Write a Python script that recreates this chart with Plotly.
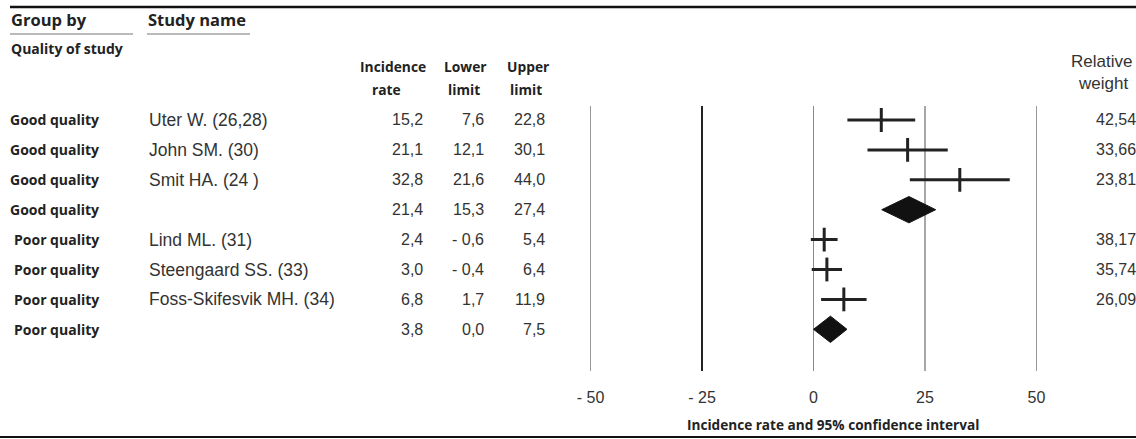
import plotly.graph_objects as go

W, H = 1136, 439

# ---------------- data ----------------
GROUPS = ["Good quality", "Good quality", "Good quality", "Good quality",
          "Poor quality", "Poor quality", "Poor quality", "Poor quality"]
STUDIES = ["Uter W. (26,28)", "John SM. (30)", "Smit HA. (24 )", "",
           "Lind ML. (31)", "Steengaard SS. (33)", "Foss-Skifesvik MH. (34)", ""]
RATE = [15.2, 21.1, 32.8, 21.4, 2.4, 3.0, 6.8, 3.8]
LOWER = [7.6, 12.1, 21.6, 15.3, -0.6, -0.4, 1.7, 0.0]
UPPER = [22.8, 30.1, 44.0, 27.4, 5.4, 6.4, 11.9, 7.5]
WEIGHT = ["42,54", "33,66", "23,81", "", "38,17", "35,74", "26,09", ""]
IS_SUMMARY = [False, False, False, True, False, False, False, True]
TICK_VALUES = [-50, -25, 0, 25, 50]
TICK_TEXT = ["- 50", "- 25", "0", "25", "50"]
X_TITLE = "Incidence rate and 95% confidence interval"

ROWS = list(range(1, len(RATE) + 1))


def px(x):
    return x / W


def py(y):
    return 1 - y / H


def fmt(v):
    s = f"{abs(v):.1f}".replace(".", ",")
    return ("- " + s) if v < 0 else s


BOLD = "Open Sans"
REG = "Liberation Sans, Arial"
INK = "#222222"

fig = go.Figure()

# individual studies: CI line + vertical tick
st = [i for i in range(len(RATE)) if not IS_SUMMARY[i]]
fig.add_trace(go.Scatter(
    x=[RATE[i] for i in st], y=[ROWS[i] for i in st], mode="markers",
    marker=dict(symbol="line-ns", size=17, line=dict(width=3, color=INK), color=INK),
    error_x=dict(type="data", symmetric=False,
                 array=[UPPER[i] - RATE[i] for i in st],
                 arrayminus=[RATE[i] - LOWER[i] for i in st],
                 width=0, thickness=3, color=INK),
    showlegend=False, hoverinfo="skip"))

# summary diamonds
HALF = 0.44
for i in range(len(RATE)):
    if IS_SUMMARY[i]:
        r = ROWS[i]
        fig.add_trace(go.Scatter(
            x=[LOWER[i], RATE[i], UPPER[i], RATE[i], LOWER[i]],
            y=[r, r - HALF, r, r + HALF, r],
            mode="lines", fill="toself", fillcolor="#111111",
            line=dict(color="#111111", width=1),
            showlegend=False, hoverinfo="skip"))

# ---------------- layout ----------------
X0, X1 = 590.5, 1036.5
TOP, BOT = 106, 371
ROW0, STEP = 120, 29.9
y_top = ROWS[0] + (TOP - ROW0) / STEP
y_bot = ROWS[0] + (BOT - ROW0) / STEP

fig.update_layout(
    width=W, height=H, margin=dict(l=0, r=0, t=0, b=0, autoexpand=False),
    paper_bgcolor="white", plot_bgcolor="white",
    xaxis=dict(domain=[px(X0), px(X1)], range=[TICK_VALUES[0], TICK_VALUES[-1]],
               tickvals=TICK_VALUES, ticktext=TICK_TEXT, showgrid=False,
               zeroline=False, showline=False, ticks="", automargin=False,
               tickfont=dict(family=REG, size=16, color="#333333"),
               ticklabelstandoff=15),
    yaxis=dict(domain=[py(BOT), py(TOP)], range=[y_bot, y_top], visible=False,
               automargin=False),
)

# vertical reference lines at the ticks
line_styles = {-50: ("#333333", 1), -25: ("#222222", 2), 0: ("#8a8a8a", 1),
               25: ("#8a8a8a", 1.5), 50: ("#333333", 1)}
for t in TICK_VALUES:
    c, w = line_styles[t]
    fig.add_shape(type="line", xref="x", yref="paper", x0=t, x1=t,
                  y0=py(BOT), y1=py(TOP), line=dict(color=c, width=w), layer="below")

# frame lines
fig.add_shape(type="line", xref="paper", yref="paper", x0=px(10), x1=1,
              y0=py(7), y1=py(7), line=dict(color="#111111", width=2.5))
fig.add_shape(type="line", xref="paper", yref="paper", x0=px(0), x1=1,
              y0=py(437), y1=py(437), line=dict(color="#111111", width=2))
fig.add_shape(type="line", xref="paper", yref="paper", x0=px(10), x1=px(133),
              y0=py(34), y1=py(34), line=dict(color="#777777", width=1))
fig.add_shape(type="line", xref="paper", yref="paper", x0=px(147), x1=px(250),
              y0=py(34), y1=py(34), line=dict(color="#777777", width=1))


def ann(text, x, y, xanchor="left", font=REG, size=16, bold=False, color="#333333", yref="paper"):
    fig.add_annotation(text=text, x=px(x), y=(py(y) if yref == "paper" else y),
                       xref="paper", yref=yref, xanchor=xanchor, yanchor="middle",
                       showarrow=False,
                       font=dict(family=font, size=size, color=color,
                                 weight=("bold" if bold else "normal")))


# header texts
ann("Group by", 9, 20, font=BOLD, size=16.5, bold=True, color=INK)
ann("Study name", 146, 20, font=BOLD, size=16.5, bold=True, color=INK)
ann("Quality of study", 9, 48, font=BOLD, size=14, bold=True, color=INK)
ann("Incidence", 393, 67, xanchor="center", font=BOLD, size=13.8, bold=True, color=INK)
ann("rate", 386, 89, xanchor="center", font=BOLD, size=13.8, bold=True, color=INK)
ann("Lower", 465, 67, xanchor="center", font=BOLD, size=13.8, bold=True, color=INK)
ann("limit", 464, 89, xanchor="center", font=BOLD, size=13.8, bold=True, color=INK)
ann("Upper", 528, 67, xanchor="center", font=BOLD, size=13.8, bold=True, color=INK)
ann("limit", 526, 89, xanchor="center", font=BOLD, size=13.8, bold=True, color=INK)
ann("Relative", 1101, 62, xanchor="center", size=17)
ann("weight", 1103, 83, xanchor="center", size=17)
ann(X_TITLE, 833, 424, xanchor="center", font=BOLD, size=13.6, bold=True, color=INK)

# table rows
for i, r in enumerate(ROWS):
    ann(GROUPS[i], 101, r, xanchor="right", font=BOLD, size=14, bold=True, color=INK, yref="y")
    if STUDIES[i]:
        ann(STUDIES[i], 147, r, size=17.5, yref="y")
    ann(fmt(RATE[i]), 425, r, xanchor="right", size=16, yref="y")
    ann(fmt(LOWER[i]), 486, r, xanchor="right", size=16, yref="y")
    ann(fmt(UPPER[i]), 547, r, xanchor="right", size=16, yref="y")
    if WEIGHT[i]:
        ann(WEIGHT[i], 1138, r, xanchor="right", size=16, yref="y")

fig.write_html("out.html", config={"displayModeBar": False},
               post_script="document.body.style.margin='0';document.body.style.overflow='hidden';")
